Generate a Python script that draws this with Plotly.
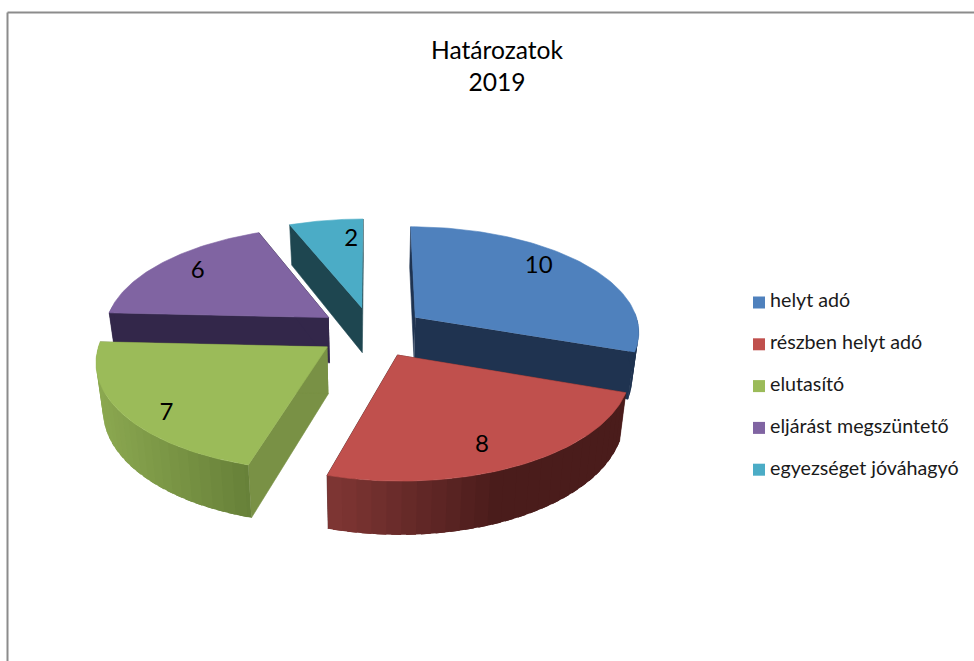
import numpy as np
import plotly.graph_objects as go

title_lines = ["Határozatok", "2019"]
categories = ["helyt adó", "részben helyt adó", "elutasító", "eljárást megszüntető", "egyezséget jóváhagyó"]
values = [10, 8, 7, 6, 2]

top_colors = ["#4F81BD", "#C0504D", "#9BBB59", "#8064A2", "#4BACC6"]
wall_left = ["#1F3350", "#7F3634", "#8BA850", "#33274A", "#1E4650"]
wall_right = ["#1F3350", "#4A1C1B", "#667F38", "#33274A", "#1E4650"]
side_colors = ["#1F3350", "#4A1C1B", "#799145", "#33274A", "#1E4650"]
# tweak of label position on the slice: radius fraction, angle offset from mid
label_r = [0.80, 0.815, 0.86, 0.79, 0.75]
label_da = [-5.5, 4, -6.5, 1, 6.5]

# projection of the tilted pie, in page pixels
CX, CY = 372, 332
A, B = 225, 105
PERSP = 0.12
DEPTH = 46
EXPLODE = 0.24
W, H = 974, 661


def project(gx, gz, h=0.0):
    s = 1 / (1 - PERSP * gz)
    x = CX + A * gx * s * (1 - 0.025 * h)
    y = CY + B * gz * s + DEPTH * s * h
    return x, y


def mix(c1, c2, t):
    a = [int(c1[i:i + 2], 16) for i in (1, 3, 5)]
    b = [int(c2[i:i + 2], 16) for i in (1, 3, 5)]
    return "rgb(%d,%d,%d)" % tuple(round(p + (q - p) * t) for p, q in zip(a, b))


def polygon(xs, ys, color, width=0.6):
    return go.Scatter(x=list(xs), y=list(ys), mode="lines", fill="toself", fillcolor=color,
                      line=dict(color=color, width=width), hoverinfo="skip", showlegend=False)


fig = go.Figure()

total = sum(values)
bounds = np.cumsum([0] + values) / total * 360

slices = []
for i in range(len(values)):
    a0, a1 = bounds[i], bounds[i + 1]
    mid = np.radians((a0 + a1) / 2)
    ox, oz = EXPLODE * np.sin(mid), -EXPLODE * np.cos(mid)
    slices.append((i, a0, a1, ox, oz))

# far slices first, the near ones cover them
for i, a0, a1, ox, oz in [slices[k] for k in (4, 3, 0, 2, 1)]:
    ang = np.radians(np.linspace(a0, a1, 80))
    gx = ox + np.sin(ang)
    gz = oz - np.cos(ang)

    # the two flat cut faces
    for a in (a0, a1):
        r = np.radians(a)
        ex, ez = ox + np.sin(r), oz - np.cos(r)
        p = [project(ox, oz, 0), project(ex, ez, 0), project(ex, ez, 1), project(ox, oz, 1)]
        fig.add_trace(polygon([q[0] for q in p], [q[1] for q in p], side_colors[i]))

    # outer wall in small strips, for the shading; each one runs a bit under the next
    xs_all = project(gx, gz, 0)[0]
    span = (xs_all.min(), xs_all.max())
    strips = list(range(0, len(ang) - 1, 3))
    if xs_all[0] < xs_all[-1]:
        strips = strips[::-1]
    for k in strips:
        if -np.cos(ang[k:k + 4]).max() > 0 or -np.cos(ang[k:k + 4]).min() > -0.05:
            j = min(k + 3, len(ang) - 1)
            lo = max(k - 2, 0) if xs_all[0] > xs_all[-1] else k
            hi = j if xs_all[0] > xs_all[-1] else min(j + 2, len(ang) - 1)
            tx, ty = project(gx[lo:hi + 1], gz[lo:hi + 1], 0)
            bx, by = project(gx[lo:hi + 1], gz[lo:hi + 1], 1)
            t = (tx.mean() - span[0]) / (span[1] - span[0])
            if i == 1:
                t = min(t * 1.8, 1)
            color = mix(wall_left[i], wall_right[i], t)
            fig.add_trace(polygon(np.r_[tx, bx[::-1]], np.r_[ty, by[::-1]], color, width=0))

    # top face
    tx, ty = project(gx, gz, 0)
    vx, vy = project(ox, oz, 0)
    fig.add_trace(polygon(np.r_[vx, tx], np.r_[vy, ty], top_colors[i]))

# value labels
for i, a0, a1, ox, oz in slices:
    r = np.radians((a0 + a1) / 2 + label_da[i])
    lx, ly = project(ox + label_r[i] * np.sin(r), oz - label_r[i] * np.cos(r))
    fig.add_trace(go.Scatter(x=[lx], y=[ly], mode="text", text=[str(values[i])],
                             textfont=dict(family="Lato", size=24, color="#000000"),
                             hoverinfo="skip", showlegend=False))

# legend drawn by hand, the spacing of the native one does not fit
legend_y = 302.5 + 41.8 * np.arange(len(categories))
fig.add_trace(go.Scatter(x=[759] * len(categories), y=legend_y, mode="markers",
                         marker=dict(symbol="square", size=12, color=top_colors, line=dict(width=0)),
                         hoverinfo="skip", showlegend=False))
fig.add_trace(go.Scatter(x=[770] * len(categories), y=legend_y, mode="text",
                         text=categories, textposition="middle right",
                         textfont=dict(family="Lato", size=19.7, color="#1a1a1a"),
                         hoverinfo="skip", showlegend=False))

fig.update_layout(
    width=W, height=H,
    margin=dict(l=0, r=0, t=0, b=0),
    paper_bgcolor="white", plot_bgcolor="white",
    showlegend=False,
    xaxis=dict(range=[0, W], visible=False, fixedrange=True),
    yaxis=dict(range=[H, 0], visible=False, fixedrange=True),
)
# chart frame, cut by the picture at the right and bottom
fig.add_shape(type="line", x0=7.5, x1=7.5, y0=12.5, y1=H, line=dict(color="#8C8C8C", width=2))
fig.add_shape(type="line", x0=7.5, x1=W, y0=12.5, y1=12.5, line=dict(color="#8C8C8C", width=2))
fig.add_annotation(x=497, y=65, text="<br>".join(title_lines), showarrow=False, align="center",
                   font=dict(family="Lato", size=24.6, color="#000000"))

fig.write_html("out.html", post_script="document.body.style.margin='0';",
               config={"displayModeBar": False})
